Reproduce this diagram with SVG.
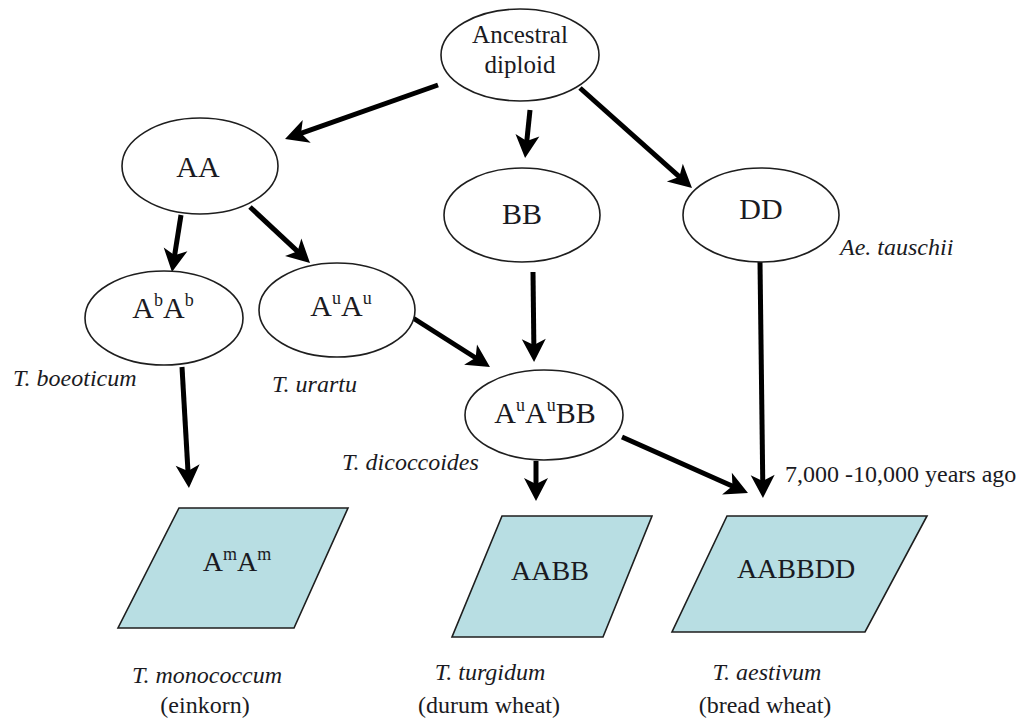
<svg xmlns="http://www.w3.org/2000/svg" width="1029" height="722" viewBox="0 0 1029 722" font-family="'Liberation Serif', 'Times New Roman', Times, serif">
<style>
.el{fill:#ffffff;stroke:#1e1e1e;stroke-width:1.6}
.pg{fill:#b8dee3;stroke:#1e1e1e;stroke-width:1.6}
text{font-family:'Liberation Serif','Times New Roman',Times,serif;fill:#1a1a22}
.n{font-size:30px;text-anchor:middle}
.p{font-size:28px;text-anchor:middle}
.a{font-size:25px;text-anchor:middle}
.i{font-size:24px;font-style:italic}
.r{font-size:24px}
.s{font-size:18px}
.c{stroke:#000;stroke-width:5;fill:none;marker-end:url(#ah)}
</style>
<defs>
<marker id="ah" markerUnits="userSpaceOnUse" viewBox="-15 -15 30 30" markerWidth="30" markerHeight="30" refX="0" refY="0" orient="auto">
<path d="M13,0 L-10,-12 L-4,0 L-10,12 Z" fill="#000"/>
</marker>
</defs>
<rect width="1029" height="722" fill="#ffffff"/>
<g id="connectors">
<line class="c" x1="438" y1="85" x2="297.3" y2="134.7"/>
<line class="c" x1="530" y1="110" x2="526.4" y2="145.1"/>
<line class="c" x1="580" y1="88" x2="682.3" y2="179.3"/>
<line class="c" x1="181" y1="215" x2="174" y2="259.2"/>
<line class="c" x1="250" y1="207" x2="300.5" y2="254.1"/>
<line class="c" x1="413" y1="318" x2="479" y2="360"/>
<line class="c" x1="533" y1="272" x2="533.9" y2="349"/>
<line class="c" x1="182" y1="367" x2="188.2" y2="475"/>
<line class="c" x1="536" y1="461" x2="536" y2="488"/>
<line class="c" x1="622" y1="437" x2="736.1" y2="487.7"/>
<line class="c" x1="760" y1="262" x2="762.8" y2="485"/>
</g>
<g id="ancestral">
<ellipse class="el" cx="520" cy="55" rx="79" ry="46"/>
<text class="a" x="520" y="43">Ancestral</text>
<text class="a" x="520" y="73">diploid</text>
</g>
<g id="AA">
<ellipse class="el" cx="200" cy="166" rx="78" ry="48"/>
<text class="n" x="198" y="177">AA</text>
</g>
<g id="BB">
<ellipse class="el" cx="522" cy="215" rx="78" ry="47"/>
<text class="n" x="522" y="224">BB</text>
</g>
<g id="DD">
<ellipse class="el" cx="761" cy="215" rx="78" ry="47"/>
<text class="n" x="761" y="219">DD</text>
<text class="i" x="840" y="255">Ae. tauschii</text>
</g>
<g id="AbAb">
<ellipse class="el" cx="164" cy="318" rx="79" ry="47"/>
<text class="n" x="163" y="318">A<tspan class="s" dy="-12">b</tspan><tspan dy="12">A</tspan><tspan class="s" dy="-12">b</tspan></text>
<text class="i" x="13" y="386">T. boeoticum</text>
</g>
<g id="AuAu">
<ellipse class="el" cx="337" cy="310" rx="78" ry="47"/>
<text class="n" x="341" y="316">A<tspan class="s" dy="-12">u</tspan><tspan dy="12">A</tspan><tspan class="s" dy="-12">u</tspan></text>
<text class="i" x="272" y="392">T. urartu</text>
</g>
<g id="AuAuBB">
<ellipse class="el" cx="544" cy="415" rx="79" ry="45"/>
<text class="n" x="545" y="423">A<tspan class="s" dy="-12">u</tspan><tspan dy="12">A</tspan><tspan class="s" dy="-12">u</tspan><tspan dy="12">BB</tspan></text>
<text class="i" x="342" y="470">T. dicoccoides</text>
</g>
<g id="AmAm">
<polygon class="pg" points="179,508 348,508 294,628 118,628"/>
<text class="p" x="237" y="571">A<tspan class="s" dy="-11">m</tspan><tspan dy="11">A</tspan><tspan class="s" dy="-11">m</tspan></text>
<text class="i" x="207" y="683" text-anchor="middle">T. monococcum</text>
<text class="r" x="205" y="713" text-anchor="middle">(einkorn)</text>
</g>
<g id="AABB">
<polygon class="pg" points="502,516 652,516 603,637 452,637"/>
<text class="p" x="550" y="580">AABB</text>
<text class="i" x="490" y="680" text-anchor="middle">T. turgidum</text>
<text class="r" x="489" y="713" text-anchor="middle">(durum wheat)</text>
</g>
<g id="AABBDD">
<polygon class="pg" points="727,516 927,516 865,632 672,632"/>
<text class="p" x="796" y="578">AABBDD</text>
<text class="i" x="767" y="680" text-anchor="middle">T. aestivum</text>
<text class="r" x="765" y="713" text-anchor="middle">(bread wheat)</text>
</g>
<g id="time-label">
<text class="r" x="785" y="482">7,000 -10,000 years ago</text>
</g>
</svg>
